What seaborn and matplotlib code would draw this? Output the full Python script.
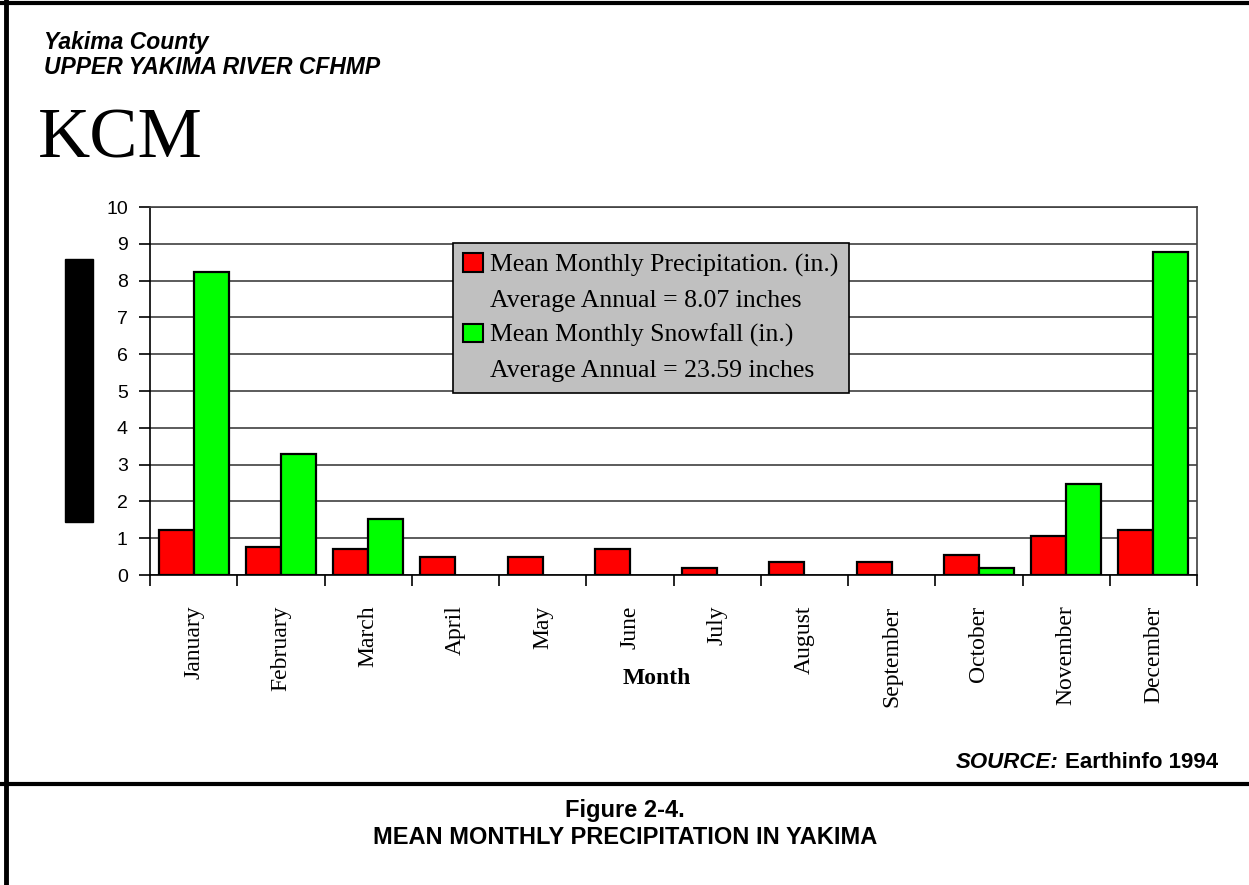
import numpy as np
import pandas as pd
import matplotlib
matplotlib.use("Agg")
import matplotlib.pyplot as plt
import seaborn as sns
from matplotlib.patches import Rectangle, Patch
from matplotlib.lines import Line2D

# data
months = ["January", "February", "March", "April", "May", "June",
          "July", "August", "September", "October", "November", "December"]
precip = [1.23, 0.75, 0.71, 0.48, 0.48, 0.71, 0.18, 0.35, 0.35, 0.53, 1.05, 1.23]
snow = [8.24, 3.28, 1.52, 0, 0, 0, 0, 0, 0, 0.18, 2.48, 8.77]
series = ["Mean Monthly Precipitation. (in.)", "Mean Monthly Snowfall (in.)"]
annual = ["Average Annual = 8.07 inches", "Average Annual = 23.59 inches"]
y_ticks = list(range(0, 11))
colors = ["#ff0000", "#00ff00"]

df = pd.DataFrame({
    "Month": months * 2,
    "Value": precip + snow,
    "Series": [series[0]] * 12 + [series[1]] * 12,
})

sns.set_style("white")
plt.rcParams["font.family"] = ["Liberation Sans", "DejaVu Sans"]
plt.rcParams.update({"text.color": "black", "axes.labelcolor": "black",
                     "xtick.color": "black", "ytick.color": "black"})
serif = "Liberation Serif"

W, H = 1249, 885
fig = plt.figure(figsize=(W / 100, H / 100), dpi=100)
ax = fig.add_axes([150 / W, 1 - 575 / H, 1047 / W, 368 / H])

sns.barplot(data=df, x="Month", y="Value", hue="Series", order=months,
            hue_order=series, palette=colors, saturation=1, width=0.8,
            edgecolor="black", linewidth=1.6, legend=False, ax=ax)
for p in ax.patches:
    if p.get_height() == 0:
        p.set_visible(False)

ax.set_xlim(-0.5, 11.5)
ax.set_ylim(0, 10)
ax.set_yticks(y_ticks)
ax.yaxis.grid(True, color="#404040", lw=1.2)
ax.set_axisbelow(True)
ax.tick_params(axis="y", left=True, length=8, width=1.2, pad=8, labelsize=14)

ax.set_xticks(range(12))
ax.set_xticklabels(months, rotation=90, fontfamily=serif, fontsize=17, va="top")
ax.set_xticks(np.arange(-0.5, 12, 1), minor=True)
ax.tick_params(axis="x", which="major", length=0, pad=22)
ax.tick_params(axis="x", which="minor", bottom=True, length=8, width=1.2)
ax.set_ylabel("")
ax.set_xlabel("Month", fontfamily=serif, fontweight="bold", fontsize=17)
ax.xaxis.set_label_coords((657 - 150) / 1047, -(678 - 575) / 368)
ax.xaxis.label.set_va("center")

for s in ax.spines.values():
    s.set_visible(True)
    s.set_color("#404040")
    s.set_linewidth(1.2)
ax.spines["left"].set_color("black")
ax.spines["bottom"].set_color("black")

# legend box
handles = [Patch(fc=colors[0], ec="black", lw=1.5), Patch(fc="none", ec="none"),
           Patch(fc=colors[1], ec="black", lw=1.5), Patch(fc="none", ec="none")]
labels = [series[0], annual[0], series[1], annual[1]]
leg = fig.legend(handles, labels, loc="upper left",
                 bbox_to_anchor=(453 / W, 1 - 243 / H), frameon=True,
                 fancybox=False, facecolor="#c0c0c0", edgecolor="black",
                 framealpha=1, prop={"family": serif, "size": 18.5},
                 handlelength=0.75, handleheight=0.75, handletextpad=0.3,
                 labelspacing=0.45, borderpad=0.4, borderaxespad=0)
leg.get_frame().set_linewidth(1.2)

# black block left of the axis
fig.patches.append(Rectangle((65 / W, 1 - 522 / H), 28 / W, 263 / H,
                             transform=fig.transFigure, color="black"))

# page frame
fig.add_artist(Line2D([6 / W, 6 / W], [0, 1], transform=fig.transFigure, color="black", lw=3.5))
fig.add_artist(Line2D([0, 1], [1 - 3 / H, 1 - 3 / H], transform=fig.transFigure, color="black", lw=3))
fig.add_artist(Line2D([0, 1], [1 - 784 / H, 1 - 784 / H], transform=fig.transFigure, color="black", lw=3))

# header
fig.text(44 / W, 1 - 42 / H, "Yakima County", fontsize=16.5, fontweight="bold",
         style="italic", va="center")
fig.text(44 / W, 1 - 67 / H, "UPPER YAKIMA RIVER CFHMP", fontsize=16.5,
         fontweight="bold", style="italic", va="center")
fig.text(38 / W, 1 - 157 / H, "KCM", fontfamily=serif, fontsize=52, va="baseline")

# source
t = fig.text(1218 / W, 1 - 762 / H, "Earthinfo 1994", fontsize=16,
             fontweight="bold", ha="right", va="center")
fig.canvas.draw()
bb = t.get_window_extent()
fig.text((bb.x0 - 6) / W, 1 - 762 / H, "SOURCE:", fontsize=16, fontweight="bold",
         style="italic", ha="right", va="center")

# caption
fig.text(625 / W, 1 - 810 / H, "Figure 2-4.", fontsize=17, fontweight="bold",
         ha="center", va="center")
fig.text(625 / W, 1 - 838 / H, "MEAN MONTHLY PRECIPITATION IN YAKIMA", fontsize=17,
         fontweight="bold", ha="center", va="center")

fig.savefig("out.png", dpi=100)
